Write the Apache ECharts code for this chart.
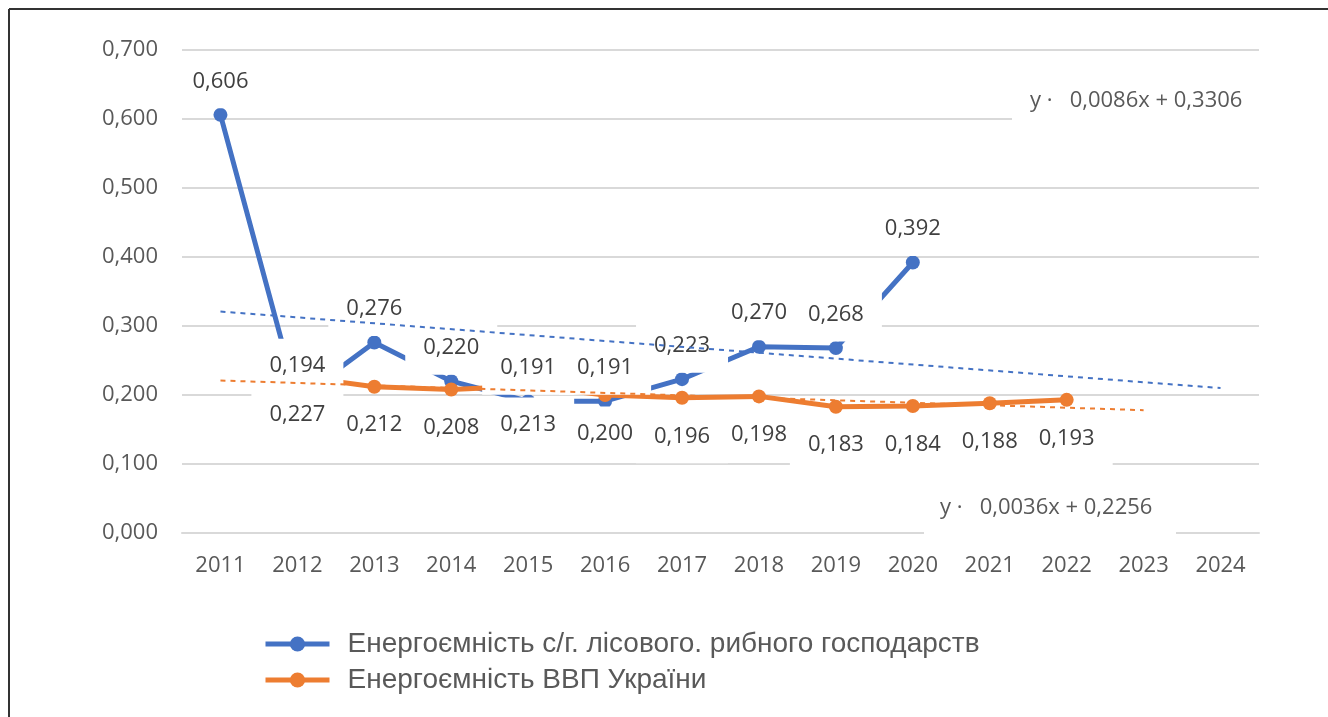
<!DOCTYPE html>
<html>
<head>
<meta charset="utf-8">
<script src="https://cdn.jsdelivr.net/npm/echarts@6/dist/echarts.min.js"></script>
<style>
  html, body { margin: 0; padding: 0; background: #fff; }
  #chart { width: 1328px; height: 717px; }
</style>
</head>
<body>
<div id="chart"></div>
<script>
// chart values
var years = ['2011', '2012', '2013', '2014', '2015', '2016', '2017', '2018', '2019', '2020', '2021', '2022', '2023', '2024']
var agroEnergy = [0.606, 0.194, 0.276, 0.220, 0.191, 0.191, 0.223, 0.270, 0.268, 0.392, null, null, null, null]
var gdpEnergy = [null, 0.227, 0.212, 0.208, 0.213, 0.200, 0.196, 0.198, 0.183, 0.184, 0.188, 0.193, null, null]
// linear trends (end points)
var agroTrend = [0.321, null, null, null, null, null, null, null, null, null, null, null, null, 0.210]
var gdpTrend = [0.221, null, null, null, null, null, null, null, null, null, null, null, 0.178, null]
var yTicks = [0, 0.1, 0.2, 0.3, 0.4, 0.5, 0.6, 0.7]
var seriesNames = ['Енергоємність с/г. лісового. рибного господарств', 'Енергоємність ВВП України']
var trendTexts = ['y ·   0,0086x + 0,3306', 'y ·   0,0036x + 0,2256']

var blue = '#4472C4'
var orange = '#ED7D31'
var textGray = '#595959'
var fmt = function (v) { return v.toFixed(3).replace('.', ',') }

var chart = echarts.init(document.getElementById('chart'))

function labelSeries(name, data, pos, dist) {
  return {
    name: name,
    type: 'line',
    data: data,
    z: 10,
    symbol: 'circle',
    symbolSize: 1,
    itemStyle: { color: 'transparent' },
    lineStyle: { width: 0, opacity: 0 },
    silent: true,
    label: {
      show: true,
      position: pos,
      distance: dist,
      formatter: function (p) { return fmt(p.value) },
      fontFamily: 'Open Sans',
      fontSize: 22,
      lineHeight: 26,
      color: '#404040',
      backgroundColor: '#fff',
      padding: [14, 18]
    }
  }
}

function trendSeries(name, data, color) {
  return {
    name: name,
    type: 'line',
    data: data,
    z: 20,
    connectNulls: true,
    symbol: 'none',
    silent: true,
    lineStyle: { color: color, width: 2, type: [5, 5] }
  }
}

chart.setOption({
  backgroundColor: '#fff',
  animation: false,
  grid: { left: 182, right: 69, top: 50, bottom: 184 },
  legend: {
    data: seriesNames,
    orient: 'vertical',
    left: 258,
    top: 625,
    itemWidth: 64,
    itemHeight: 19,
    itemGap: 8,
    lineStyle: { width: 5 },
    textStyle: {
      fontFamily: 'Liberation Sans',
      fontSize: 28,
      lineHeight: 28,
      color: textGray,
      padding: [0, 0, 0, 13]
    }
  },
  xAxis: {
    type: 'category',
    data: years,
    boundaryGap: true,
    axisTick: { show: false },
    axisLine: { lineStyle: { color: '#D9D9D9', width: 2 } },
    axisLabel: { fontFamily: 'Open Sans', fontSize: 22, color: textGray, margin: 22 }
  },
  yAxis: {
    type: 'value',
    min: yTicks[0],
    max: yTicks[yTicks.length - 1],
    interval: 0.1,
    axisLine: { show: false },
    axisTick: { show: false },
    splitLine: { lineStyle: { color: '#D9D9D9', width: 2 } },
    axisLabel: { fontFamily: 'Open Sans', fontSize: 22, color: textGray, margin: 24, formatter: fmt }
  },
  series: [
    {
      name: seriesNames[0],
      type: 'line',
      data: agroEnergy,
      z: 2,
      symbol: 'circle',
      symbolSize: 14,
      lineStyle: { color: blue, width: 5 },
      itemStyle: { color: blue }
    },
    {
      name: seriesNames[1],
      type: 'line',
      data: gdpEnergy,
      z: 3,
      symbol: 'circle',
      symbolSize: 14,
      lineStyle: { color: orange, width: 5 },
      itemStyle: { color: orange }
    },
    labelSeries('agroLabels', agroEnergy, 'top', 6),
    labelSeries('gdpLabels', gdpEnergy, 'bottom', 11),
    trendSeries('agroTrend', agroTrend, blue),
    trendSeries('gdpTrend', gdpTrend, orange)
  ],
  graphic: [
    { type: 'line', shape: { x1: 9, y1: 9, x2: 1328, y2: 9 }, style: { stroke: '#333', lineWidth: 2 } },
    { type: 'line', shape: { x1: 9, y1: 9, x2: 9, y2: 717 }, style: { stroke: '#333', lineWidth: 2 } },
    { type: 'rect', z: 30, shape: { x: 1012, y: 84, width: 252, height: 40 }, style: { fill: '#fff' } },
    {
      type: 'text', z: 31, left: 1030, top: 90,
      style: { text: trendTexts[0], fontFamily: 'Open Sans', fontSize: 22, fill: textGray }
    },
    { type: 'rect', z: 30, shape: { x: 924, y: 488, width: 252, height: 48 }, style: { fill: '#fff' } },
    {
      type: 'text', z: 31, left: 940, top: 497,
      style: { text: trendTexts[1], fontFamily: 'Open Sans', fontSize: 22, fill: textGray }
    }
  ]
})
</script>
</body>
</html>
